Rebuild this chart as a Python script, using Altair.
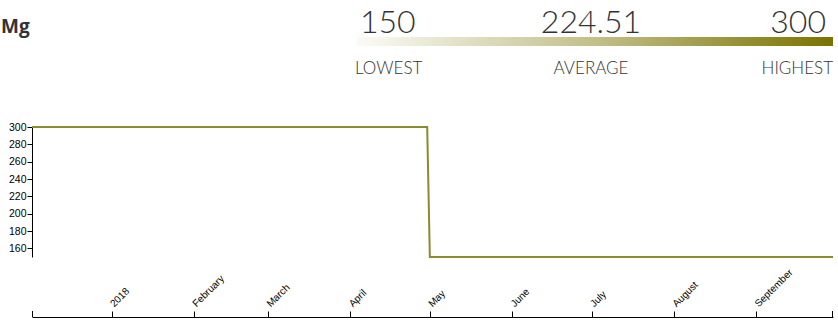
import altair as alt
import pandas as pd

dates = ["2017-12-02", "2018-04-30", "2018-05-01", "2018-09-30"]
values = [300, 300, 150, 150]
tick_dates = ["2018-01-01", "2018-02-01", "2018-03-01", "2018-04-01", "2018-05-01",
              "2018-06-01", "2018-07-01", "2018-08-01", "2018-09-01"]
y_ticks = [160, 180, 200, 220, 240, 260, 280, 300]
title = "Mg"
stat_values = ["150", "224.51", "300"]
stat_labels = ["LOWEST", "AVERAGE", "HIGHEST"]

df = pd.DataFrame({"date": pd.to_datetime(dates), "value": values})

W, H = 801, 130
LINE = "#8a8a2e"

xscale = alt.Scale(domain=[pd.Timestamp("2017-12-02").isoformat(), pd.Timestamp("2018-09-30").isoformat()])
yscale = alt.Scale(domain=[150, 300], nice=False)

x_axis = alt.Axis(
    orient="top", offset=-(H + 60), title=None, grid=False,
    values=[pd.Timestamp(d).isoformat() for d in tick_dates],
    labelExpr="month(datum.value) == 0 ? timeFormat(datum.value, '%Y') : timeFormat(datum.value, '%B')",
    labelAngle=-45, labelAlign="left", labelBaseline="middle",
    labelFont="Liberation Sans", labelFontSize=10, labelColor="#000",
    tickColor="#000", domainColor="#000", tickSize=6, labelPadding=6,
)
y_axis = alt.Axis(
    title=None, grid=False, values=y_ticks, labelFont="Liberation Sans",
    labelFontSize=10.5, labelColor="#000", tickColor="#000", domainColor="#000",
    tickSize=5, labelPadding=1,
)

line = alt.Chart(df).mark_line(color=LINE, strokeWidth=2, interpolate="linear").encode(
    x=alt.X("date:T", scale=xscale, axis=x_axis),
    y=alt.Y("value:Q", scale=yscale, axis=y_axis),
)

hdr = alt.Chart(pd.DataFrame({"a": [0]}))

title_txt = hdr.mark_text(text=title, font="Open Sans", fontWeight="bold", fontSize=19,
                          color="#333", align="left", baseline="alphabetic").encode(
    x=alt.value(-31), y=alt.value(-94))

FONT = "Lato"
nums = []
for txt, xpos, al in zip(stat_values, [328, 559, 794], ["left", "center", "right"]):
    nums.append(hdr.mark_text(text=txt, font=FONT, fontWeight=300, fontSize=32, color="#333",
                              align=al, baseline="alphabetic").encode(
        x=alt.value(xpos), y=alt.value(-94.5)))
labs = []
for txt, xpos, al in zip(stat_labels, [323, 559, 801], ["left", "center", "right"]):
    labs.append(hdr.mark_text(text=txt, font=FONT, fontWeight=300, fontSize=17, color="#333",
                              align=al, baseline="alphabetic").encode(
        x=alt.value(xpos), y=alt.value(-53)))

grad = hdr.mark_rect(
    color=alt.LinearGradient(
        gradient="linear", x1=0, x2=1, y1=0, y2=0,
        stops=[alt.GradientStop(color="#fbfbf6", offset=0),
               alt.GradientStop(color="#c2bf8a", offset=0.5),
               alt.GradientStop(color="#7a7300", offset=1)],
    )
).encode(x=alt.value(325), x2=alt.value(801), y=alt.value(-90), y2=alt.value(-81))

end_ticks = hdr.mark_rule(color="#000").encode(
    x=alt.value(0.5), y=alt.value(H + 54), y2=alt.value(H + 60))
end_ticks2 = hdr.mark_rule(color="#000").encode(
    x=alt.value(W - 0.5), y=alt.value(H + 54), y2=alt.value(H + 60))

chart = alt.layer(line, title_txt, *nums, *labs, grad, end_ticks, end_ticks2).properties(
    width=W, height=H,
    autosize=alt.AutoSizeParams(type="none"),
    padding={"left": 32, "top": 127, "right": 5, "bottom": 67},
).configure(background="white").configure_view(stroke=None, strokeWidth=0)

chart.save("out.html", embed_options={"renderer": "svg", "actions": False})
